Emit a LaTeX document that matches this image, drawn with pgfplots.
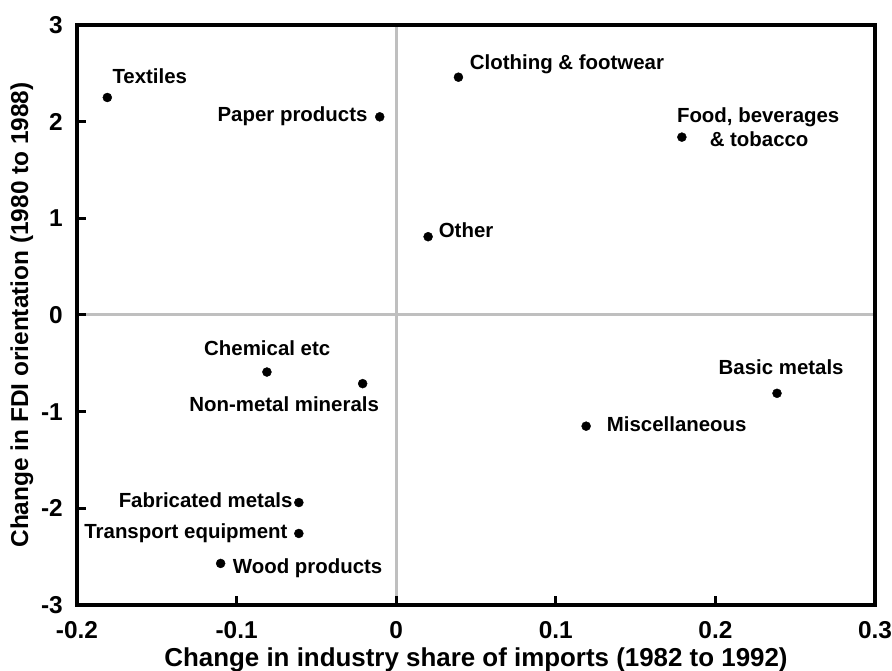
\documentclass[border=0pt]{standalone}
\usepackage{fontspec}
\setmainfont{Liberation Sans}
\usepackage{pgfplots}
\pgfplotsset{compat=1.18}

\pgfplotstableread{
x y
-0.181 2.25
-0.0103 2.05
0.039 2.46
0.179 1.84
0.020 0.81
-0.081 -0.59
-0.021 -0.71
0.2386 -0.81
0.119 -1.15
-0.061 -1.94
-0.061 -2.26
-0.110 -2.57
}\industries

\begin{document}
\begin{tikzpicture}
\begin{axis}[
    width=798bp, height=580bp, scale only axis,
    xmin=-0.2, xmax=0.3, ymin=-3, ymax=3,
    xtick={-0.2,-0.1,0,0.1,0.2,0.3},
    xticklabels={-0.2,-0.1,0,0.1,0.2,0.3},
    ytick={-3,-2,-1,0,1,2,3},
    yticklabels={-3,-2,-1,0,1,2,3},
    tick pos=left, tick align=inside,
    major tick length=9bp,
    tick style={black, line width=3bp},
    axis line style={line width=4.5bp},
    axis on top,
    ticklabel style={font=\fontsize{24.5}{28}\selectfont\bfseries, inner sep=0pt},
    xticklabel style={anchor=north, yshift=-16bp},
    yticklabel style={anchor=east, xshift=-14bp},
    label style={inner sep=0pt},
    xlabel={Change in industry share of imports (1982 to 1992)},
    ylabel={Change in FDI orientation (1980 to 1988)},
    xlabel style={font=\fontsize{26}{30}\selectfont\bfseries,
        at={(axis description cs:0.5,-0.1064)}, anchor=base},
    ylabel style={font=\fontsize{24.5}{30}\selectfont\bfseries,
        at={(axis description cs:-0.069,0.5)}, anchor=center},
    clip=false,
]
\draw[line width=3bp, color={rgb,255:red,191;green,191;blue,191}] (axis cs:0,-3) -- (axis cs:0,3);
\draw[line width=3bp, color={rgb,255:red,191;green,191;blue,191}] (axis cs:-0.2,0) -- (axis cs:0.3,0);
\addplot[only marks, mark=*, mark size=4.5bp, black] table[x=x, y=y] {\industries};
\coordinate (bl) at (rel axis cs:0,0);
\begin{scope}[every node/.style={font=\fontsize{20.5}{24}\selectfont\bfseries, inner sep=0pt}]
\node[anchor=base] at (axis cs:-0.1544,2.399) {Textiles};
\node[anchor=base east] at (axis cs:-0.0179,1.999) {Paper products};
\node[anchor=base west] at (axis cs:0.0461,2.541) {Clothing \& footwear};
\node[anchor=base] at (axis cs:0.2268,1.988) {Food, beverages};
\node[anchor=base] at (axis cs:0.2274,1.748) {\& tobacco};
\node[anchor=base west] at (axis cs:0.0266,0.803) {Other};
\node[anchor=base] at (axis cs:-0.0808,-0.424) {Chemical etc};
\node[anchor=base] at (axis cs:-0.0702,-1.0) {Non-metal minerals};
\node[anchor=base] at (axis cs:0.2412,-0.620) {Basic metals};
\node[anchor=base west] at (axis cs:0.1319,-1.207) {Miscellaneous};
\node[anchor=base east] at (axis cs:-0.0649,-1.989) {Fabricated metals};
\node[anchor=base east] at (axis cs:-0.068,-2.309) {Transport equipment};
\node[anchor=base west] at (axis cs:-0.1024,-2.678) {Wood products};
\end{scope}
\end{axis}
\pgfresetboundingbox
\path ([shift={(-77bp,-66bp)}]bl) rectangle ([shift={(815bp,605bp)}]bl);
\end{tikzpicture}
\end{document}
